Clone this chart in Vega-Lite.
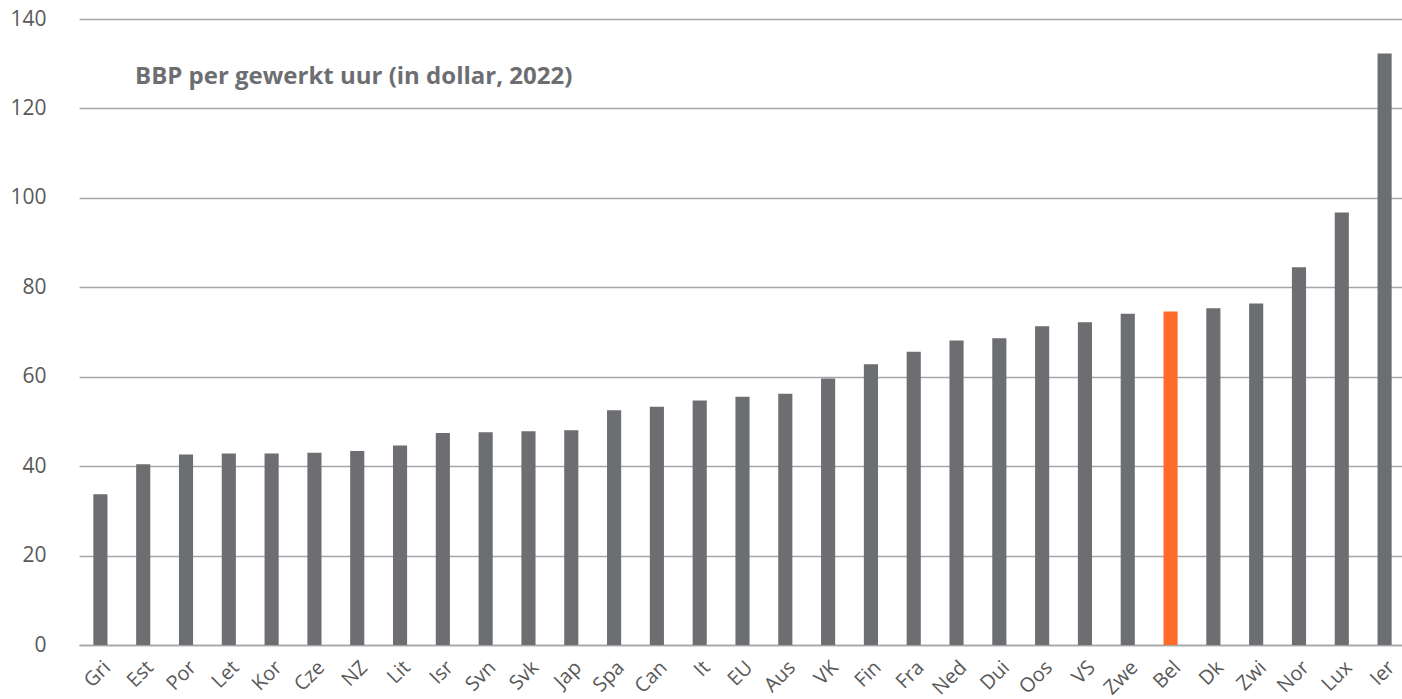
{
  "$schema": "https://vega.github.io/schema/vega-lite/v6.json",
  "width": 1323,
  "height": 626,
  "autosize": "none",
  "padding": {"left": 79, "top": 19, "right": 0, "bottom": 54},
  "background": "white",
  "title": {
    "text": "BBP per gewerkt uur (in dollar, 2022)",
    "anchor": "start",
    "frame": "group",
    "orient": "top",
    "offset": 0,
    "dx": 56,
    "dy": 81,
    "font": "Open Sans",
    "fontSize": 24,
    "fontWeight": "bold",
    "color": "#6D6E71"
  },
  "data": {
    "values": [
      {"land": "Gri", "waarde": 33.7},
      {"land": "Est", "waarde": 40.4},
      {"land": "Por", "waarde": 42.6},
      {"land": "Let", "waarde": 42.8},
      {"land": "Kor", "waarde": 42.8},
      {"land": "Cze", "waarde": 43.0},
      {"land": "NZ", "waarde": 43.4},
      {"land": "Lit", "waarde": 44.6},
      {"land": "Isr", "waarde": 47.4},
      {"land": "Svn", "waarde": 47.6},
      {"land": "Svk", "waarde": 47.8},
      {"land": "Jap", "waarde": 48.0},
      {"land": "Spa", "waarde": 52.5},
      {"land": "Can", "waarde": 53.3},
      {"land": "It", "waarde": 54.7},
      {"land": "EU", "waarde": 55.5},
      {"land": "Aus", "waarde": 56.2},
      {"land": "VK", "waarde": 59.6},
      {"land": "Fin", "waarde": 62.8},
      {"land": "Fra", "waarde": 65.6},
      {"land": "Ned", "waarde": 68.1},
      {"land": "Dui", "waarde": 68.6},
      {"land": "Oos", "waarde": 71.3},
      {"land": "VS", "waarde": 72.2},
      {"land": "Zwe", "waarde": 74.1},
      {"land": "Bel", "waarde": 74.6},
      {"land": "Dk", "waarde": 75.3},
      {"land": "Zwi", "waarde": 76.4},
      {"land": "Nor", "waarde": 84.5},
      {"land": "Lux", "waarde": 96.7},
      {"land": "Ier", "waarde": 132.3}
    ]
  },
  "mark": {"type": "bar"},
  "encoding": {
    "x": {
      "field": "land",
      "type": "nominal",
      "sort": null,
      "scale": {"range": [0, 1327], "paddingInner": 0.67, "paddingOuter": 0.335},
      "axis": {
        "title": null,
        "labelAngle": -45,
        "labelFont": "Open Sans",
        "labelFontSize": 20,
        "labelColor": "#595959",
        "labelPadding": 12,
        "ticks": false,
        "domain": true,
        "domainColor": "#A6A6A6",
        "domainWidth": 1.3,
        "grid": false
      }
    },
    "y": {
      "field": "waarde",
      "type": "quantitative",
      "scale": {"domain": [0, 140], "nice": false},
      "axis": {
        "title": null,
        "values": [0, 20, 40, 60, 80, 100, 120, 140],
        "labelFont": "Open Sans",
        "labelFontSize": 21,
        "labelColor": "#595959",
        "labelPadding": 33,
        "ticks": false,
        "domain": false,
        "grid": true,
        "gridColor": "#A6A6A6",
        "gridWidth": 1.3
      }
    },
    "color": {
      "condition": {"test": "datum.land === 'Bel'", "value": "#FF6B2B"},
      "value": "#6D6E71"
    }
  },
  "config": {"view": {"stroke": null}}
}
